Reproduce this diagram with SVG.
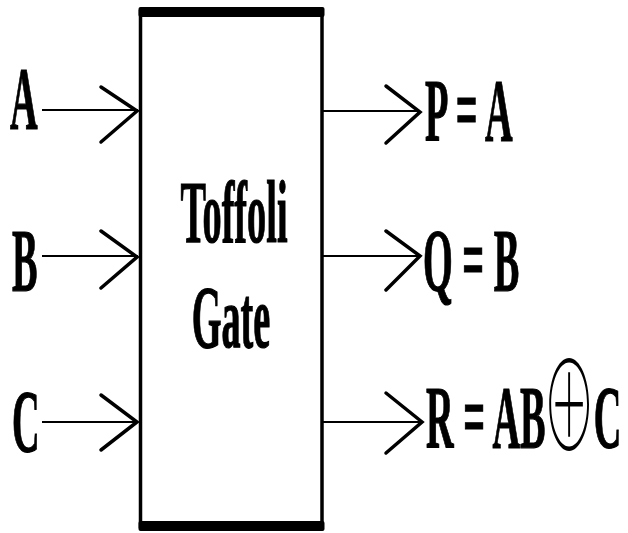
<svg xmlns="http://www.w3.org/2000/svg" width="628" height="533" viewBox="0 0 628 533">
<style>
.lbl{font-family:"Liberation Serif","Times New Roman",serif;font-weight:bold;font-size:89px;fill:#000;stroke:#000;stroke-width:1.2}
.wire{stroke:#000;stroke-width:2;fill:none}
.head{stroke:#000;stroke-width:3.5;fill:none;stroke-linecap:round;stroke-linejoin:miter}
.sym{font-family:"Noto Sans CJK JP","DejaVu Sans",sans-serif;font-weight:100;font-size:125px;stroke:none}
</style>
<rect width="628" height="533" fill="#fff"/>
<g id="gate">
<line x1="140.5" y1="10" x2="140.5" y2="528" stroke="#000" stroke-width="3.5"/>
<line x1="322" y1="10" x2="322" y2="528" stroke="#000" stroke-width="3.5"/>
<rect x="138.5" y="7" width="186" height="10" rx="2" fill="#000"/>
<rect x="138.5" y="521" width="186" height="10" rx="2" fill="#000"/>
<text class="lbl" text-anchor="middle" transform="translate(234,242) scale(0.43 1)">Toffoli</text>
<text class="lbl" text-anchor="middle" transform="translate(231,347) scale(0.43 1)">Gate</text>
</g>
<g id="in-A"><text class="lbl" transform="translate(10,128) scale(0.43 1)">A</text></g>
<g id="in-B"><text class="lbl" transform="translate(12,290) scale(0.43 1)">B</text></g>
<g id="in-C"><text class="lbl" transform="translate(12,451) scale(0.43 1)">C</text></g>
<g id="out-P"><text class="lbl" transform="translate(425,140) scale(0.43 1)">P = A</text></g>
<g id="out-Q"><text class="lbl" transform="translate(423,290) scale(0.43 1)">Q = B</text></g>
<g id="out-R"><text class="lbl" transform="translate(426,447) scale(0.43 1)">R = AB<tspan class="sym" dx="-8" dy="5">⊕</tspan><tspan dx="-5" dy="-5">C</tspan></text></g>
<g id="connectors">
<line class="wire" x1="42" y1="110" x2="138" y2="110"/>
<polyline class="head" points="101,87 137,111 101,142"/>
<line class="wire" x1="42" y1="256" x2="138" y2="256"/>
<polyline class="head" points="101,231 137,257 101,288"/>
<line class="wire" x1="42" y1="422" x2="138" y2="422"/>
<polyline class="head" points="101,395 137,422 101,450"/>
<line class="wire" x1="323" y1="111" x2="419" y2="111"/>
<polyline class="head" points="386,86 420,112 386,143"/>
<line class="wire" x1="323" y1="256" x2="419" y2="256"/>
<polyline class="head" points="386,231 420,256 386,290"/>
<line class="wire" x1="323" y1="422" x2="421" y2="422"/>
<polyline class="head" points="386,393 422,422 386,453"/>
</g>
</svg>
